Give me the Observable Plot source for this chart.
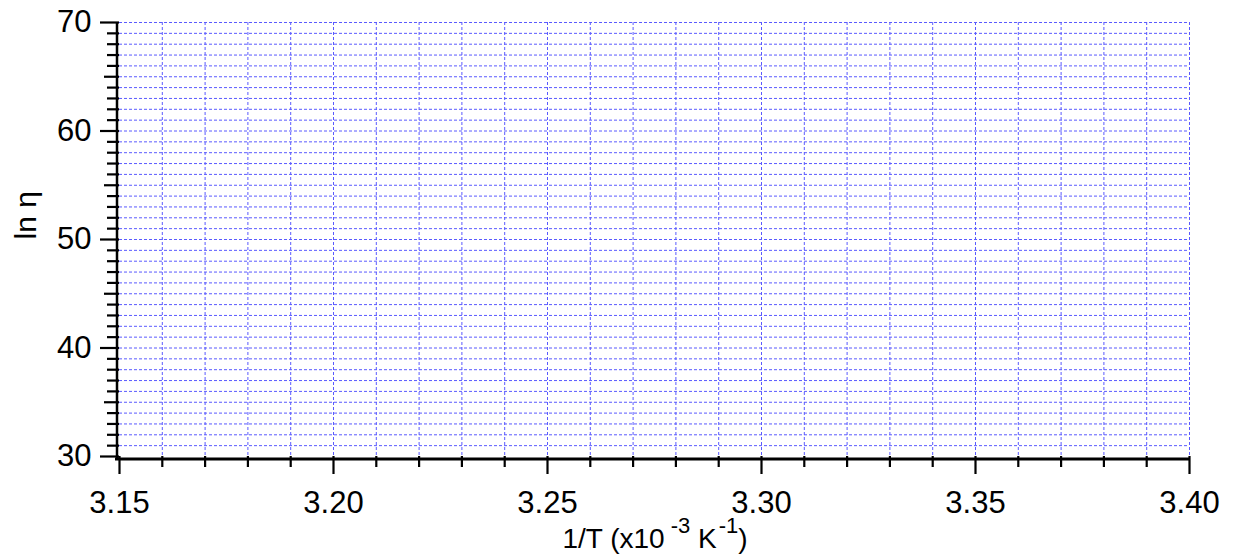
<!DOCTYPE html>
<html>
<head>
<meta charset="utf-8">
<script src="https://cdn.jsdelivr.net/npm/d3@7"></script>
<script src="https://cdn.jsdelivr.net/npm/@observablehq/plot@0.6"></script>
<style>
  html, body { margin: 0; padding: 0; background: #ffffff; }
</style>
</head>
<body>
<div id="chart"></div>
<script>
// Axis extents
const xDomain = [3.15, 3.40];
const yDomain = [30, 70];

// X ticks
const xMajorTicks = [3.15, 3.20, 3.25, 3.30, 3.35, 3.40];
const xMinorTicks = [3.16, 3.17, 3.18, 3.19, 3.21, 3.22, 3.23, 3.24, 3.26, 3.27, 3.28, 3.29,
                     3.31, 3.32, 3.33, 3.34, 3.36, 3.37, 3.38, 3.39];
const xGridLines = [3.16, 3.17, 3.18, 3.19, 3.20, 3.21, 3.22, 3.23, 3.24, 3.25, 3.26, 3.27, 3.28,
                    3.29, 3.30, 3.31, 3.32, 3.33, 3.34, 3.35, 3.36, 3.37, 3.38, 3.39, 3.40];

// Y ticks
const yMajorTicks = [30, 40, 50, 60, 70];
const yMidTicks = [35, 45, 55, 65];
const yMinorTicks = [31, 32, 33, 34, 36, 37, 38, 39, 41, 42, 43, 44, 46, 47, 48, 49,
                     51, 52, 53, 54, 56, 57, 58, 59, 61, 62, 63, 64, 66, 67, 68, 69];
const yGridLines = [31, 32, 33, 34, 35, 36, 37, 38, 39, 40, 41, 42, 43, 44, 45, 46, 47, 48, 49, 50,
                    51, 52, 53, 54, 55, 56, 57, 58, 59, 60, 61, 62, 63, 64, 65, 66, 67, 68, 69, 70];

// Labels
const yLabel = "ln η";
const xLabelParts = ["1/T (x10", "-3", " K", "-1", ")"];

const gridColor = "#5a5aff";
const font = "'Liberation Sans', Arial, Helvetica, sans-serif";

const chart = Plot.plot({
  width: 1235,
  height: 555,
  marginLeft: 119,
  marginRight: 46,
  marginTop: 22,
  marginBottom: 99,
  style: { fontFamily: font, background: "#ffffff", color: "#000000" },
  x: { domain: xDomain, label: null },
  y: { domain: yDomain, label: null },
  marks: [
    Plot.ruleX(xGridLines, { stroke: gridColor, strokeWidth: 1, strokeDasharray: "3,2" }),
    Plot.ruleY(yGridLines, { stroke: gridColor, strokeWidth: 1, strokeDasharray: "3,2" }),
    Plot.axisX(xMinorTicks, { tickSize: 11, tickFormat: () => "", strokeWidth: 2.2, label: null }),
    Plot.axisX(xMajorTicks, { tickSize: 18, tickPadding: 16, tickFormat: d3.format(".2f"), fontSize: 31, strokeWidth: 2.2, label: null }),
    Plot.axisY(yMinorTicks, { tickSize: 12, tickFormat: () => "", strokeWidth: 2.2, label: null }),
    Plot.axisY(yMidTicks, { tickSize: 15, tickFormat: () => "", strokeWidth: 2.2, label: null }),
    Plot.axisY(yMajorTicks, { tickSize: 19, tickPadding: 9, tickFormat: d3.format("d"), fontSize: 31, strokeWidth: 2.2, label: null }),
    Plot.ruleY([yDomain[0]], { dy: 2.5, strokeWidth: 3, stroke: "#000", insetLeft: -4, insetRight: -1 }),
    Plot.ruleX([xDomain[0]], { dx: -2.5, strokeWidth: 2.5, stroke: "#000", insetBottom: -4 }),
    Plot.text([yLabel], { frameAnchor: "left", rotate: -90, dx: -93, fontSize: 30, fill: "#000" })
  ]
});

// X-axis title with superscripts
const svg = d3.select(chart);
const t = svg.append("text")
  .attr("x", 655)
  .attr("y", 548)
  .attr("text-anchor", "middle")
  .attr("font-family", font)
  .attr("font-size", 28)
  .attr("fill", "#000");
t.append("tspan").text(xLabelParts[0]);
t.append("tspan").attr("dx", 6).attr("dy", -15).attr("font-size", 22).text(xLabelParts[1]);
t.append("tspan").attr("dy", 15).attr("font-size", 28).text(xLabelParts[2]);
t.append("tspan").attr("dx", 2).attr("dy", -15).attr("font-size", 22).text(xLabelParts[3]);
t.append("tspan").attr("dy", 15).attr("font-size", 28).text(xLabelParts[4]);

document.getElementById("chart").appendChild(chart);
</script>
</body>
</html>
